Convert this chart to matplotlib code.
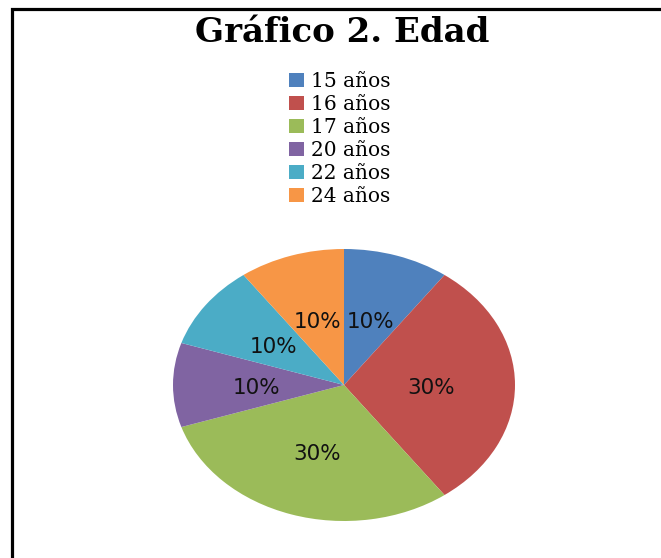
import matplotlib
matplotlib.use("Agg")
import matplotlib.pyplot as plt
from matplotlib.patches import Rectangle
from matplotlib.transforms import offset_copy

# datos del grafico
edades = ["15 años", "16 años", "17 años", "20 años", "22 años", "24 años"]
alumnos = [1, 3, 3, 1, 1, 1]
colores = ["#4F81BD", "#C0504D", "#9BBB59", "#8064A2", "#4BACC6", "#F79646"]

W, H = 661, 558
fig = plt.figure(figsize=(W / 100, H / 100), dpi=100)

# borde del grafico (solo se ven arriba e izquierda)
fig.patches.append(Rectangle((12 / W, -0.1), 1.2, 1 - 9 / H + 0.1,
                             transform=fig.transFigure, fill=False,
                             edgecolor="black", linewidth=2.3))

fig.text(342 / W, 1 - 42 / H, "Gráfico 2. Edad", ha="center", va="baseline",
         family="DejaVu Serif", fontweight="bold", fontsize=24.5)

# pastel (eliptico)
ax = fig.add_axes([173 / W, 37 / H, 342 / W, 272 / H])
wedges, texts, autotexts = ax.pie(alumnos, colors=colores, startangle=90,
                                  counterclock=False, autopct="%1.0f%%",
                                  pctdistance=0.51,
                                  wedgeprops=dict(linewidth=0),
                                  textprops=dict(fontsize=15.5, color="#111111",
                                                 family="DejaVu Sans"))
for t in autotexts:
    t.set_transform(offset_copy(t.get_transform(), fig=fig, x=0, y=-3, units="dots"))
ax.set_aspect("auto")
ax.set_xlim(-1, 1)
ax.set_ylim(-1, 1)
ax.axis("off")

fig.legend(wedges, edades, loc="upper center",
           bbox_to_anchor=(340 / W, 1 - 62 / H), frameon=False,
           prop=dict(family="DejaVu Serif", size=14.5),
           handlelength=0.72, handleheight=0.72, handletextpad=0.35,
           labelspacing=0.2, borderpad=0)

fig.savefig("out.png", dpi=100)
